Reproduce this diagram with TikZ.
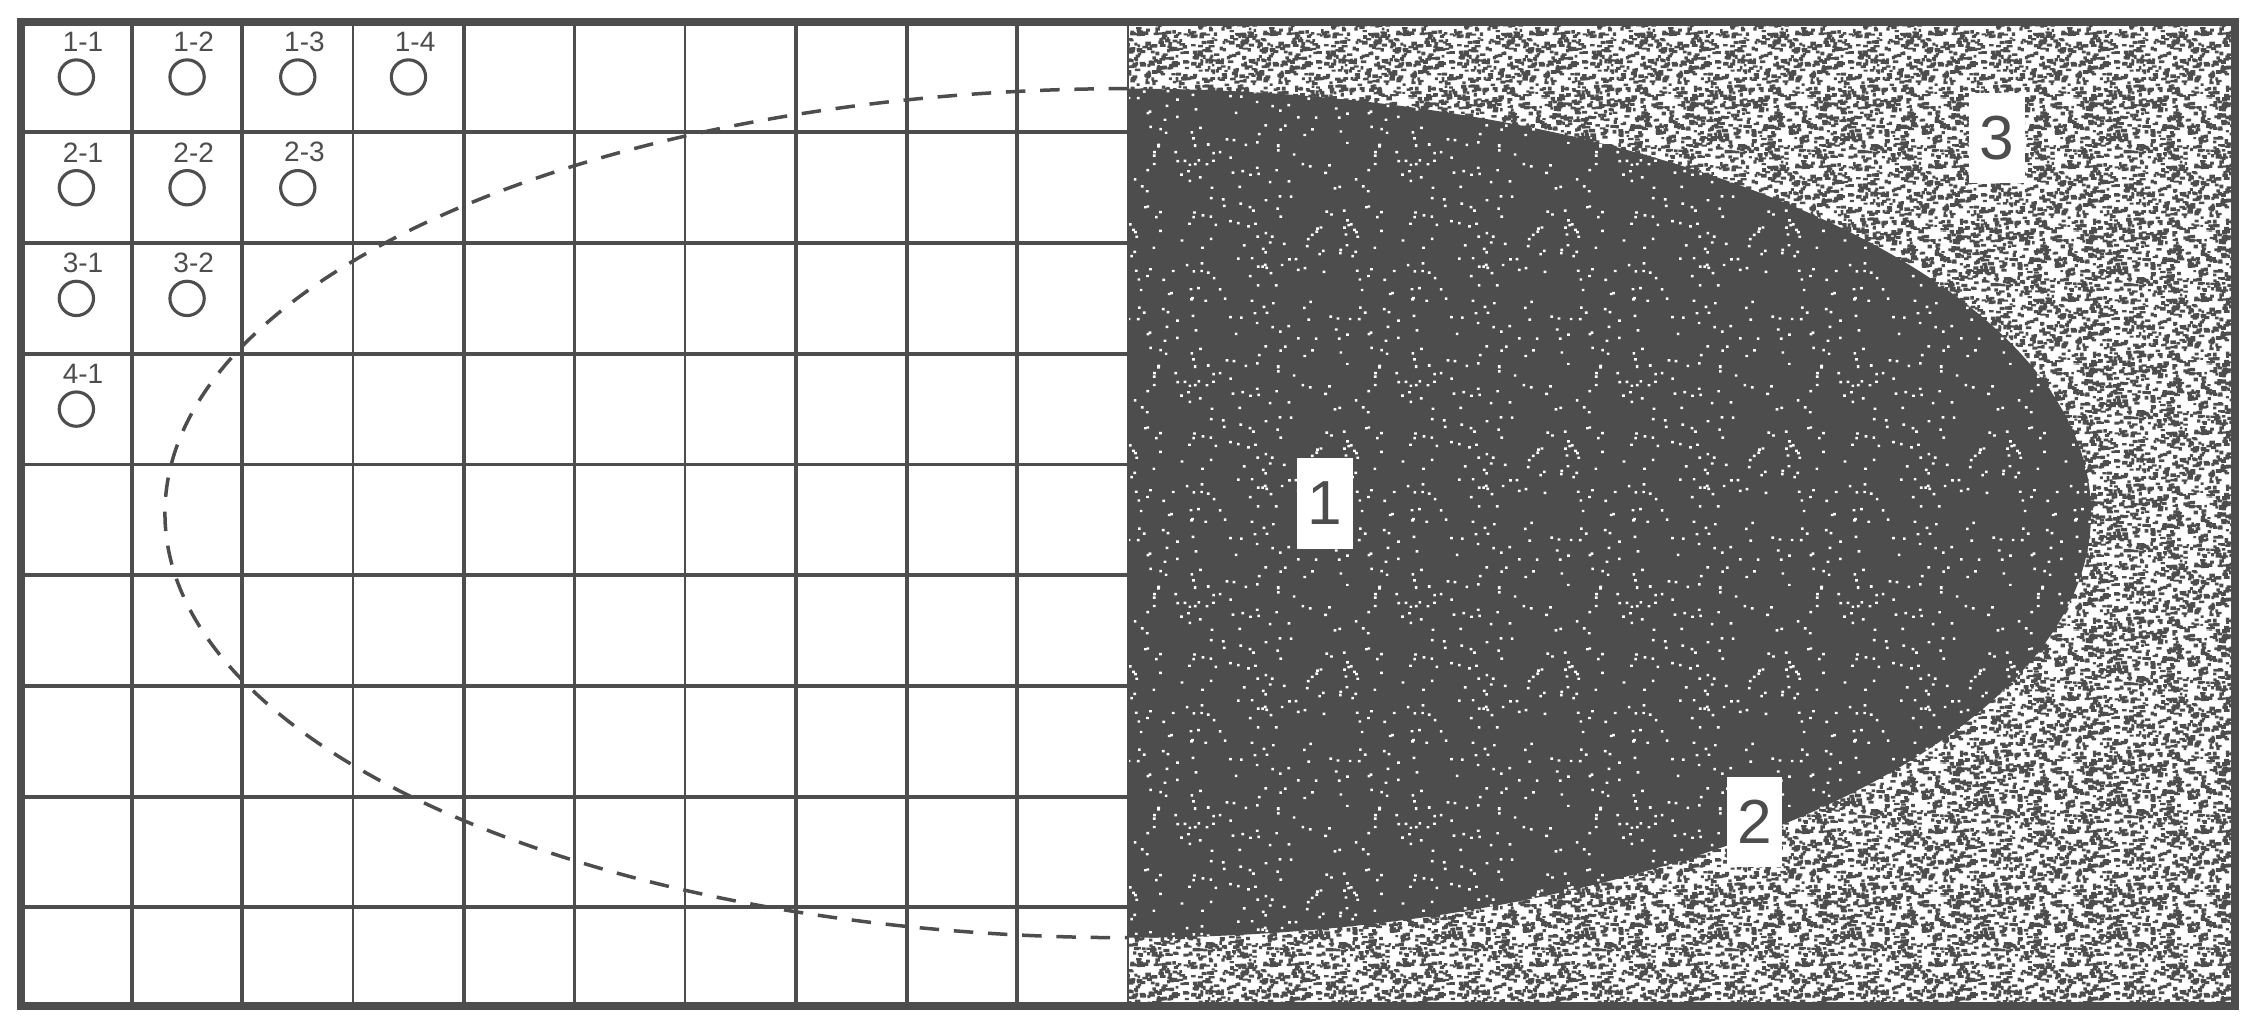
\documentclass[tikz,border=0pt]{standalone}
\usepackage{fontspec}
\setmainfont{Liberation Sans}
\usetikzlibrary{patterns,calc}

\definecolor{ink}{RGB}{77,77,77}

\newcount\spkcount

% one grain; a copy is added when it runs over the tile edge
\newcommand\spkgrain[5]{%
\pgfpathrectangle{\pgfpoint{#1cm}{#2cm}}{\pgfpoint{#3cm}{#4cm}}%
\pgfmathparse{(#1+#3>#5)}\let\spkox\pgfmathresult
\pgfmathparse{(#2+#4>#5)}\let\spkoy\pgfmathresult
\ifdim\spkox pt>0.5pt
\pgfpathrectangle{\pgfpoint{#1cm-#5cm}{#2cm}}{\pgfpoint{#3cm}{#4cm}}\fi
\ifdim\spkoy pt>0.5pt
\pgfpathrectangle{\pgfpoint{#1cm}{#2cm-#5cm}}{\pgfpoint{#3cm}{#4cm}}\fi
\ifdim\spkox pt>0.5pt \ifdim\spkoy pt>0.5pt
\pgfpathrectangle{\pgfpoint{#1cm-#5cm}{#2cm-#5cm}}{\pgfpoint{#3cm}{#4cm}}\fi\fi}

% coarse grey noise for zone 3
\pgfdeclarepatternformonly{speckle}{\pgfpoint{0cm}{0cm}}{\pgfpoint{1.2cm}{1.2cm}}{\pgfpoint{1.2cm}{1.2cm}}{%
\pgfmathsetseed{11}%
\spkcount=0
\loop
\pgfmathsetmacro\spkx{1.2*rnd}%
\pgfmathsetmacro\spky{1.2*rnd}%
\pgfmathsetmacro\spkw{0.022+0.03*rnd}%
\pgfmathsetmacro\spkh{0.018+0.016*rnd}%
\spkgrain{\spkx}{\spky}{\spkw}{\spkh}{1.2}%
\advance\spkcount by 1
\ifnum\spkcount<800 \repeat
\pgfusepath{fill}%
}

% sparse white dots for zone 1
\pgfdeclarepatternformonly{sparkle}{\pgfpoint{0cm}{0cm}}{\pgfpoint{2cm}{2cm}}{\pgfpoint{2cm}{2cm}}{%
\pgfmathsetseed{5}%
\spkcount=0
\loop
\pgfmathsetmacro\spkx{2*rnd}%
\pgfmathsetmacro\spky{2*rnd}%
\spkgrain{\spkx}{\spky}{0.024}{0.022}{2}%
\advance\spkcount by 1
\ifnum\spkcount<200 \repeat
\pgfusepath{fill}%
}

\begin{document}
\begin{tikzpicture}
\tikzset{outerframe/.style={line width=2pt,ink}}
\tikzset{gridline/.style={line width=1pt,ink}}
\tikzset{gridlineThin/.style={line width=0.6pt,ink}}

\tikzset{hole/.style={
circle,draw,ink,
line width=0.8pt,
minimum size=0.31cm,
inner sep=0pt}}

\tikzset{cellLabel/.style={
text=ink,inner sep=0pt,
font=\fontsize{7.2}{8}\selectfont}}

\tikzset{zoneLabel/.style={
rectangle,fill=white,text=ink,
minimum width=0.5cm,
minimum height=0.82cm,
inner sep=0pt,
font=\fontsize{16}{18}\selectfont}}

\useasboundingbox (-0.19,-0.20) rectangle (20.226,9.086);

\path
(0,0) coordinate (A1)
(20,8.89) coordinate (B2)
(10,0) coordinate (M1)
(10,8.89) coordinate (M2)
(10,4.45) coordinate (C);

\fill[white] (A1) rectangle (B2);

% zone 3
\fill[pattern=speckle,pattern color=ink] (M1) rectangle (B2);

% zone 1
\fill[ink]
($(C)+(0,-3.835)$) arc[start angle=-90,end angle=90,
x radius=8.7,y radius=3.835] -- cycle;
\fill[pattern=sparkle,pattern color=white]
($(C)+(0,-3.835)$) arc[start angle=-90,end angle=90,
x radius=8.7,y radius=3.835] -- cycle;

% grid
\foreach \x in {1,2,4,5,7,8,9}
\draw[gridline] (\x,0) -- (\x,8.89);
\foreach \x in {3,6}
\draw[gridlineThin] (\x,0) -- (\x,8.89);
\foreach \y in {1,...,8}
\draw[gridline] (0,8.89-\y) -- (10,8.89-\y);
\draw[gridlineThin] (M1) -- (M2);

% contour mirrored on the grid
\draw[ink,line width=0.9pt,dash pattern=on 5pt off 3.8pt]
($(C)+(0,3.835)$) arc[start angle=90,end angle=270,
x radius=8.7,y radius=3.835];

% holes
\foreach \r/\n in {1/4,2/3,3/2,4/1}
\foreach \c in {1,...,\n}{
\node[hole] (hole\r\c) at (\c-0.5,8.39-\r+1) {};
\node[cellLabel] (lbl\r\c) at (\c-0.44,9.71-\r) {\r-\c};
}

\node[zoneLabel] (zone1) at (11.78,4.54) {1};
\node[zoneLabel] (zone2) at (15.66,1.66) {2};
\node[zoneLabel] (zone3) at (17.85,7.84) {3};

\draw[outerframe] (A1) rectangle (B2);

\end{tikzpicture}
\end{document}
